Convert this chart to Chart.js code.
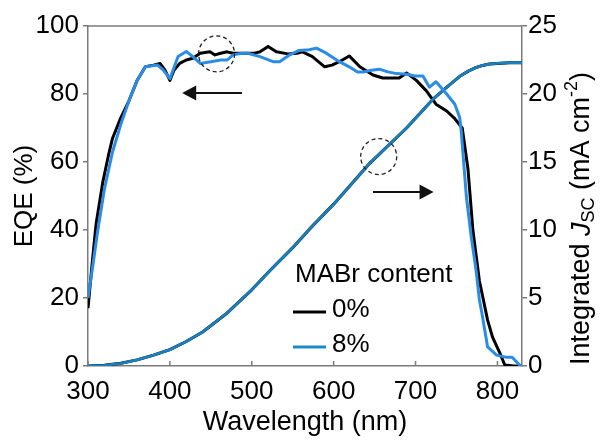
<!DOCTYPE html>
<html>
<head>
<meta charset="utf-8">
<script src="https://cdn.jsdelivr.net/npm/chart.js@4.4.1/dist/chart.umd.min.js"></script>
<style>
  html, body { margin: 0; padding: 0; background: #fff; }
  #wrap { width: 603px; height: 441px; position: relative; }
</style>
</head>
<body>
<div id="wrap"><canvas id="eqeChart"></canvas></div>
<script>
// EQE, MABr 0% (black)
const wl0 = [300,305,310,318,325,330,340,350,360,370,380,388,394,400,405,412,420,428,437,449,455,462,470,477,485,495,503,510,520,530,544,555,562,574,589,598,607,619,632,648,660,670,680,689,701,713,725,738,747,757,764,770,778,788,794,803,809,820,830];
const eqe0 = [17,30,42,54,62,67,73,78,84,88,88.5,89,87,84,87,89,90,90.5,92,92.4,91.5,92,92.4,92,92,92,92,92.4,94,92.4,91.8,92,92.4,91,88,88.5,89.5,91.2,88,85.6,84.7,84.7,84.7,86.2,84,81,77,75,73,70,58,40,25,13.5,8.5,3.8,0.3,0,0];

// EQE, MABr 8% (blue)
const wl8 = [300,305,312,320,330,340,350,360,370,385,392,400,410,420,428,437,450,462,470,477,488,495,510,526,534,546,558,570,579,591,607,619,629,637,646,656,666,677,689,699,709,717,725,738,748,754,756,762,768,774,778,781,788,799,810,818,827,830];
const eqe8 = [20,28,40,52,63,71,78,84,88,88.5,87,84.5,91,92.5,91,89,89.5,90,90,91.5,92,92,91,89.5,89.5,91.5,92.8,93,93.5,92,89.5,88,86.5,86.5,87,87.3,86.5,86,85.8,85.3,85.3,82,83.6,80,77,73,68.5,50,38,28,19.4,15.6,5.6,3.2,2.6,2.6,0.3,0];

// integrated Jsc (mA cm-2)
const wlJ = [300,320,340,360,380,400,420,440,470,500,522,550,571,600,644,689,721,740,754,765,774,782,790,800,815,830];
const jsc0 = [0,0.05,0.2,0.45,0.8,1.2,1.8,2.5,3.9,5.6,7.0,8.7,10.1,11.9,14.9,17.5,19.6,20.6,21.3,21.7,21.95,22.1,22.2,22.25,22.3,22.3];
const jsc8 = [0,0.05,0.2,0.45,0.8,1.2,1.8,2.5,3.9,5.6,7.0,8.7,10.1,11.9,14.9,17.5,19.6,20.6,21.3,21.7,21.95,22.1,22.2,22.25,22.3,22.3];

const xTicks = [300,400,500,600,700,800];
const eqeTicks = [0,10,20,30,40,50,60,70,80,90,100];
const jscTicks = [0,2.5,5,7.5,10,12.5,15,17.5,20,22.5,25];
const legendTitle = 'MABr content';
const legendLabels = ['0%', '8%'];

const BLACK = '#000000';
const BLUE = '#2b8ce6';
const TEAL = '#1a7fba';
const AXIS = '#7a7a7a';
const FONT = "'Liberation Sans', Arial, sans-serif";

function pts(xs, ys) {
  return xs.map((x, i) => ({ x: x, y: ys[i] }));
}

// circles, arrows, legend, right title and top border
const extras = {
  id: 'extras',
  afterDatasetsDraw(chart) {
    const ctx = chart.ctx;
    const x = chart.scales.x, y = chart.scales.y, y2 = chart.scales.y2;
    ctx.save();

    // dashed circles
    ctx.strokeStyle = '#222';
    ctx.lineWidth = 1.3;
    ctx.setLineDash([4, 3]);
    [[x.getPixelForValue(457), y.getPixelForValue(91.8)],
     [x.getPixelForValue(655), y2.getPixelForValue(15.4)]].forEach(c => {
      ctx.beginPath();
      ctx.arc(c[0], c[1], 18, 0, Math.PI * 2);
      ctx.stroke();
    });
    ctx.setLineDash([]);

    // arrows
    function arrow(x1, x2, py) {
      const dir = Math.sign(x2 - x1);
      ctx.strokeStyle = '#111';
      ctx.fillStyle = '#111';
      ctx.lineWidth = 2;
      ctx.beginPath();
      ctx.moveTo(x1, py);
      ctx.lineTo(x2 - dir * 10, py);
      ctx.stroke();
      ctx.beginPath();
      ctx.moveTo(x2, py);
      ctx.lineTo(x2 - dir * 14, py - 7.5);
      ctx.lineTo(x2 - dir * 14, py + 7.5);
      ctx.closePath();
      ctx.fill();
    }
    arrow(x.getPixelForValue(488), x.getPixelForValue(415), y.getPixelForValue(80.3));
    arrow(x.getPixelForValue(648), x.getPixelForValue(722), y2.getPixelForValue(12.8));

    // legend
    ctx.fillStyle = '#000';
    ctx.font = '26px ' + FONT;
    ctx.textBaseline = 'alphabetic';
    ctx.textAlign = 'left';
    ctx.fillText(legendTitle, 295, 282);
    [[BLACK, 312, 317], ['#1a8ac6', 347, 352]].forEach((row, i) => {
      ctx.strokeStyle = row[0];
      ctx.lineWidth = 3;
      ctx.beginPath();
      ctx.moveTo(293, row[1]);
      ctx.lineTo(326, row[1]);
      ctx.stroke();
      ctx.fillStyle = '#000';
      ctx.fillText(legendLabels[i], 332, row[2]);
    });

    // inward ticks on the wavelength axis
    ctx.strokeStyle = AXIS;
    ctx.lineWidth = 1.5;
    xTicks.forEach(v => {
      const px = x.getPixelForValue(v);
      ctx.beginPath();
      ctx.moveTo(px, chart.chartArea.bottom);
      ctx.lineTo(px, chart.chartArea.bottom - 5);
      ctx.stroke();
    });

    // top border
    const a = chart.chartArea;
    ctx.beginPath();
    ctx.moveTo(a.left, a.top);
    ctx.lineTo(a.right, a.top);
    ctx.stroke();

    // right axis title: Integrated J_SC (mA cm^-2)
    ctx.translate(582, 365);
    ctx.rotate(-Math.PI / 2);
    ctx.fillStyle = '#000';
    ctx.textBaseline = 'middle';
    let cx = 0;
    const parts = [
      ['Integrated ', '27px ' + FONT, 0],
      ['J', 'italic 27px ' + FONT, 0],
      ['SC', '18px ' + FONT, 7],
      [' (mA cm', '27px ' + FONT, 0],
      ['-2', '18px ' + FONT, -10],
      [')', '27px ' + FONT, 0]
    ];
    parts.forEach(p => {
      ctx.font = p[1];
      ctx.fillText(p[0], cx, p[2]);
      cx += ctx.measureText(p[0]).width;
    });
    ctx.restore();
  }
};

new Chart(document.getElementById('eqeChart'), {
  type: 'line',
  data: {
    datasets: [
      { label: '8% EQE', data: pts(wl8, eqe8), yAxisID: 'y', borderColor: BLUE, borderWidth: 3, order: 0 },
      { label: '0% EQE', data: pts(wl0, eqe0), yAxisID: 'y', borderColor: BLACK, borderWidth: 3, order: 1 },
      { label: '8% Jsc', data: pts(wlJ, jsc8), yAxisID: 'y2', borderColor: TEAL, borderWidth: 2.8, order: 0 },
      { label: '0% Jsc', data: pts(wlJ, jsc0), yAxisID: 'y2', borderColor: BLACK, borderWidth: 3, order: 1 }
    ]
  },
  options: {
    responsive: true,
    maintainAspectRatio: false,
    animation: false,
    layout: { padding: { top: 26, left: 0, right: 0, bottom: 0 } },
    elements: {
      point: { radius: 0 },
      line: { tension: 0, fill: false, borderJoinStyle: 'round' }
    },
    plugins: { legend: { display: false }, tooltip: { enabled: false } },
    scales: {
      x: {
        type: 'linear',
        min: 300,
        max: 830,
        afterBuildTicks: s => { s.ticks = xTicks.map(v => ({ value: v })); },
        afterFit: s => { s.height = 75; },
        grid: { display: false },
        border: { display: true, color: AXIS, width: 1.5 },
        ticks: { color: '#000', padding: 2, maxRotation: 0, font: { family: FONT, size: 26 } },
        title: { display: true, text: 'Wavelength (nm)', color: '#000', padding: { top: 0, bottom: 2 }, font: { family: FONT, size: 27 } }
      },
      y: {
        position: 'left',
        min: 0,
        max: 100,
        afterBuildTicks: s => { s.ticks = eqeTicks.map(v => ({ value: v })); },
        afterFit: s => { s.width = 88; },
        grid: { drawOnChartArea: false, drawTicks: true, tickLength: 5, color: AXIS, lineWidth: 1.5 },
        border: { display: true, color: AXIS, width: 1.5 },
        ticks: {
          color: '#000', padding: 4, font: { family: FONT, size: 26 },
          callback: v => (v % 20 === 0 ? v : '')
        },
        title: { display: true, text: 'EQE (%)', color: '#000', padding: { top: 9, bottom: 0 }, font: { family: FONT, size: 26 } }
      },
      y2: {
        position: 'right',
        min: 0,
        max: 25,
        afterBuildTicks: s => { s.ticks = jscTicks.map(v => ({ value: v })); },
        afterFit: s => { s.width = 81; },
        grid: { drawOnChartArea: false, drawTicks: true, tickLength: 5, color: AXIS, lineWidth: 1.5 },
        border: { display: true, color: AXIS, width: 1.5 },
        ticks: {
          color: '#000', padding: 1, font: { family: FONT, size: 26 },
          callback: v => (v % 5 === 0 ? v : '')
        }
      }
    }
  },
  plugins: [extras]
});
</script>
</body>
</html>
